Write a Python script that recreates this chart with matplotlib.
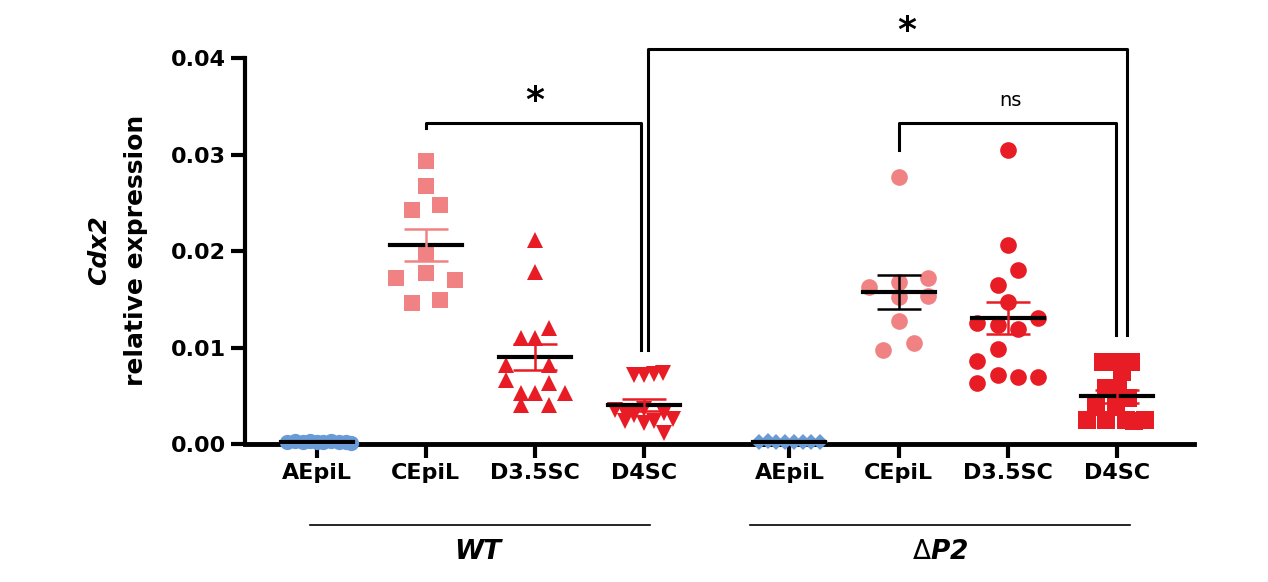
import matplotlib.pyplot as plt
import numpy as np

cats = ["AEpiL", "CEpiL", "D3.5SC", "D4SC", "AEpiL", "CEpiL", "D3.5SC", "D4SC"]
pos = [0, 1, 2, 3, 4.33, 5.33, 6.33, 7.33]

# values, with horizontal scatter offsets
wt_a = [0.0002, 0.0003, 0.0002, 0.0003, 0.0002, 0.0002, 0.0003, 0.0002, 0.0002, 0.0001]
wt_a_dx = [-0.27, -0.2, -0.13, -0.06, 0.0, 0.06, 0.13, 0.2, 0.27, 0.31]
wt_c = [0.0293, 0.0268, 0.0248, 0.0243, 0.0198, 0.0177, 0.0172, 0.0170, 0.0149, 0.0146]
wt_c_dx = [0, 0, 0.13, -0.13, 0, 0, -0.27, 0.27, 0.13, -0.13]
wt_d35 = [0.0212, 0.0178, 0.0120, 0.0110, 0.0110, 0.0082, 0.0082, 0.0066, 0.0063,
          0.0053, 0.0053, 0.0053, 0.0041, 0.0041]
wt_d35_dx = [0, 0, 0.13, -0.13, 0, -0.27, 0.13, -0.27, 0.13, -0.13, 0, 0.27, -0.13, 0.13]
wt_d4 = [0.0072, 0.0072, 0.0073, 0.0074, 0.0035, 0.0033, 0.0030, 0.0036, 0.0032,
         0.0024, 0.0022, 0.0024, 0.0026, 0.0011]
wt_d4_dx = [-0.09, 0, 0.09, 0.17, -0.27, -0.18, -0.09, 0, 0.18, -0.18, 0, 0.09, 0.26, 0.18]

dp_a = [0.0002, 0.0003, 0.0002, 0.0002, 0.0002, 0.0002, 0.0002, 0.0002]
dp_a_dx = [-0.28, -0.2, -0.12, -0.04, 0.04, 0.12, 0.2, 0.28]
dp_c = [0.0277, 0.0172, 0.0168, 0.0163, 0.0154, 0.0152, 0.0128, 0.0105, 0.0098]
dp_c_dx = [0, 0.27, 0, -0.27, 0.27, 0, 0, 0.14, -0.14]
dp_d35 = [0.0305, 0.0206, 0.0180, 0.0165, 0.0147, 0.0131, 0.0125, 0.0123, 0.0119,
          0.0099, 0.0086, 0.0072, 0.0070, 0.0070, 0.0063]
dp_d35_dx = [0, 0, 0.09, -0.09, 0, 0.28, -0.28, -0.09, 0.09, -0.09, -0.28, -0.09, 0.09, 0.28, -0.28]
dp_d4 = [0.0085, 0.0085, 0.0085, 0.0075, 0.0058, 0.0058, 0.0048, 0.0038, 0.0038,
         0.0025, 0.0025, 0.0025, 0.0025, 0.0024]
dp_d4_dx = [-0.13, -0.04, 0.13, 0.05, -0.1, 0.01, 0.1, -0.19, -0.01, -0.27, -0.1, 0.08, 0.26, 0.16]

groups = [wt_a, wt_c, wt_d35, wt_d4, dp_a, dp_c, dp_d35, dp_d4]
offsets = [wt_a_dx, wt_c_dx, wt_d35_dx, wt_d4_dx, dp_a_dx, dp_c_dx, dp_d35_dx, dp_d4_dx]
pink, red, blue = "#f08283", "#e81c24", "#6b9bd6"
colors = [blue, pink, red, red, blue, pink, red, red]
markers = ["o", "s", "^", "v", "D", "o", "o", "s"]
sizes = [11, 12, 12, 12, 8, 12, 12, 13]
err_colors = [blue, pink, red, red, blue, "black", red, red]

fig = plt.figure(figsize=(12.68, 5.82), dpi=100)
ax = fig.add_axes([0.193, 0.237, 0.749, 0.663])

for p, vals, dx, c, m, s, ec in zip(pos, groups, offsets, colors, markers, sizes, err_colors):
    vals = np.array(vals)
    ax.plot(p + np.array(dx), vals, m, color=c, ms=s, mew=0, ls="none", zorder=3, clip_on=False)
    mean = vals.mean()
    sem = vals.std(ddof=1) / np.sqrt(len(vals))
    ax.plot([p - 0.33, p + 0.33], [mean, mean], color="black", lw=3, zorder=4)
    if sem > 0.0003:
        ax.errorbar(p, mean, yerr=sem, color=ec, capsize=16, lw=1.8, capthick=1.8, zorder=4)

ax.set_xlim(-0.66, 8.04)
ax.set_ylim(0, 0.04)
ax.set_yticks([0, 0.01, 0.02, 0.03, 0.04])
ax.set_yticklabels(["0.00", "0.01", "0.02", "0.03", "0.04"])
ax.set_xticks(pos)
ax.set_xticklabels(cats)
for s in ["top", "right"]:
    ax.spines[s].set_visible(False)
ax.spines["left"].set_linewidth(3)
ax.spines["bottom"].set_linewidth(3.5)
ax.tick_params(width=3, length=10, labelsize=16)
for t in ax.get_xticklabels() + ax.get_yticklabels():
    t.set_fontweight("bold")

fig.text(0.078, 0.57, "Cdx2", rotation=90, ha="center", va="center", fontsize=18,
         fontweight="bold", style="italic")
fig.text(0.107, 0.57, "relative expression", rotation=90, ha="center", va="center",
         fontsize=18, fontweight="bold")

# significance brackets
kw = dict(color="black", lw=2.2, clip_on=False)
ax.plot([1, 1, 2.97, 2.97], [0.0328, 0.0333, 0.0333, 0.0097], **kw)
ax.text(2.0, 0.0345, "*", ha="center", fontsize=26, fontweight="bold")
ax.plot([3.03, 3.03, 7.42, 7.42], [0.0097, 0.0410, 0.0410, 0.0113], **kw)
ax.text(5.4, 0.0418, "*", ha="center", fontsize=26, fontweight="bold")
ax.plot([5.33, 5.33, 7.32, 7.32], [0.0305, 0.0333, 0.0333, 0.0113], **kw)
ax.text(6.35, 0.0350, "ns", ha="center", fontsize=14)

# group labels
fig.add_artist(plt.Line2D([310 / 1268, 650 / 1268], [1 - 525 / 582] * 2, color="black", lw=1.2))
fig.add_artist(plt.Line2D([750 / 1268, 1130 / 1268], [1 - 525 / 582] * 2, color="black", lw=1.2))
fig.text(478 / 1268, 1 - 552 / 582, "WT", ha="center", va="center", fontsize=19,
         fontweight="bold", style="italic")
fig.text(940 / 1268, 1 - 552 / 582, r"$\Delta$$\mathbfit{P2}$", ha="center", va="center",
         fontsize=19, fontweight="bold")

fig.savefig("out.png", dpi=100)
